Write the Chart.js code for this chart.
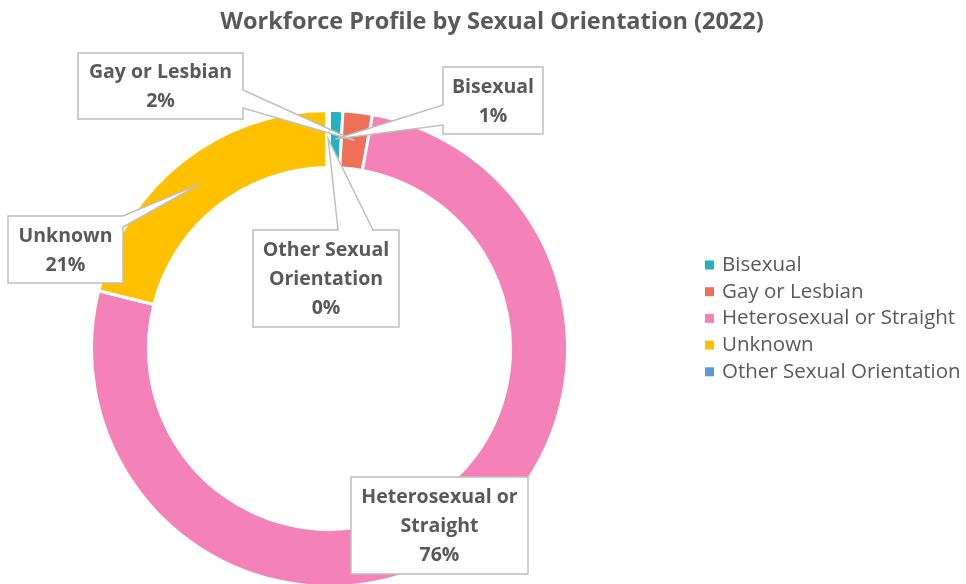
<!DOCTYPE html>
<html>
<head>
<meta charset="utf-8">
<script src="https://cdn.jsdelivr.net/npm/chart.js@4"></script>
<style>
  body { margin: 0; background: #fff; }
  #wrap { width: 966px; height: 584px; }
</style>
</head>
<body>
<div id="wrap"><canvas id="donut" width="966" height="584"></canvas></div>
<script>
// data
const categories = ['Bisexual', 'Gay or Lesbian', 'Heterosexual or Straight', 'Unknown', 'Other Sexual Orientation'];
const shares = [0.9, 2.0, 76.0, 20.9, 0.2];
const sliceColors = ['#1fb4bf', '#ee7059', '#f581b9', '#ffc000', '#5b9bd5'];
const chartTitle = 'Workforce Profile by Sexual Orientation (2022)';

const FONT = '"Open Sans", "Liberation Sans", sans-serif';
const GREY = '#595959';

// callout boxes (index into categories), pointer base given on one side of the box
const callouts = [
    { idx: 3, box: [8, 216, 115, 67], side: 'right', base: [216, 227] },
    { idx: 4, box: [253, 230, 146, 97], side: 'top', base: [338, 373] },
    { idx: 1, box: [78, 53, 165, 66], side: 'right', base: [90, 108] },
    { idx: 0, box: [443, 67, 100, 67], side: 'left', base: [105, 125] },
    { idx: 2, box: [351, 477, 177, 97], side: null }
];

function pct(i) {
    let total = shares.reduce((a, b) => a + b, 0);
    return Math.round(shares[i] / total * 100) + '%';
}

function wrap(ctx, text, maxW) {
    let words = text.split(' ');
    let lines = [];
    let cur = '';
    words.forEach(w => {
        let t = cur ? cur + ' ' + w : w;
        if (cur && ctx.measureText(t).width > maxW) {
            lines.push(cur);
            cur = w;
        } else {
            cur = t;
        }
    });
    if (cur) lines.push(cur);
    return lines;
}

const decorPlugin = {
    id: 'decor',
    afterDraw(chart) {
        const ctx = chart.ctx;
        const arcs = chart.getDatasetMeta(0).data;
        ctx.save();

        // title
        ctx.fillStyle = GREY;
        ctx.font = 'bold 23.5px ' + FONT;
        ctx.textAlign = 'center';
        ctx.textBaseline = 'middle';
        ctx.fillText(chartTitle, 492, 22);

        // callouts
        ctx.font = 'bold 19.5px ' + FONT;
        callouts.forEach(c => {
            const [x, y, w, h] = c.box;
            const tip = arcs[c.idx].getCenterPoint();
            ctx.beginPath();
            if (c.side === 'right') {
                ctx.moveTo(x, y);
                ctx.lineTo(x + w, y);
                ctx.lineTo(x + w, c.base[0]);
                ctx.lineTo(tip.x, tip.y);
                ctx.lineTo(x + w, c.base[1]);
                ctx.lineTo(x + w, y + h);
                ctx.lineTo(x, y + h);
            } else if (c.side === 'left') {
                ctx.moveTo(x, y);
                ctx.lineTo(x + w, y);
                ctx.lineTo(x + w, y + h);
                ctx.lineTo(x, y + h);
                ctx.lineTo(x, c.base[1]);
                ctx.lineTo(tip.x, tip.y);
                ctx.lineTo(x, c.base[0]);
            } else if (c.side === 'top') {
                ctx.moveTo(x, y);
                ctx.lineTo(c.base[0], y);
                ctx.lineTo(tip.x, tip.y);
                ctx.lineTo(c.base[1], y);
                ctx.lineTo(x + w, y);
                ctx.lineTo(x + w, y + h);
                ctx.lineTo(x, y + h);
            } else {
                ctx.rect(x, y, w, h);
            }
            ctx.closePath();
            ctx.fillStyle = '#fff';
            ctx.fill();
            ctx.strokeStyle = '#bfbfbf';
            ctx.lineWidth = 1.5;
            ctx.stroke();

            let lines = wrap(ctx, categories[c.idx], w - 8);
            lines.push(pct(c.idx));
            const lh = 29;
            let y0 = y + h / 2 - (lines.length - 1) * lh / 2;
            ctx.fillStyle = GREY;
            lines.forEach((t, k) => ctx.fillText(t, x + w / 2, y0 + k * lh + 1));
        });

        // legend
        ctx.font = '20.5px ' + FONT;
        ctx.textAlign = 'left';
        categories.forEach((name, i) => {
            const cy = 265 + i * 26.7;
            ctx.fillStyle = sliceColors[i];
            ctx.fillRect(705, cy - 4.5, 9, 9);
            ctx.fillStyle = GREY;
            ctx.fillText(name, 722, cy);
        });
        ctx.restore();
    }
};

new Chart(document.getElementById('donut'), {
    type: 'doughnut',
    data: {
        labels: categories,
        datasets: [{
            data: shares,
            backgroundColor: sliceColors,
            borderColor: '#fff',
            borderWidth: 3
        }]
    },
    options: {
        responsive: false,
        animation: false,
        radius: 238,
        cutout: 178,
        layout: { padding: { left: 93, right: 400, top: 113, bottom: 0 } },
        plugins: {
            legend: { display: false },
            title: { display: false },
            tooltip: { enabled: false }
        }
    },
    plugins: [decorPlugin]
});
</script>
</body>
</html>
